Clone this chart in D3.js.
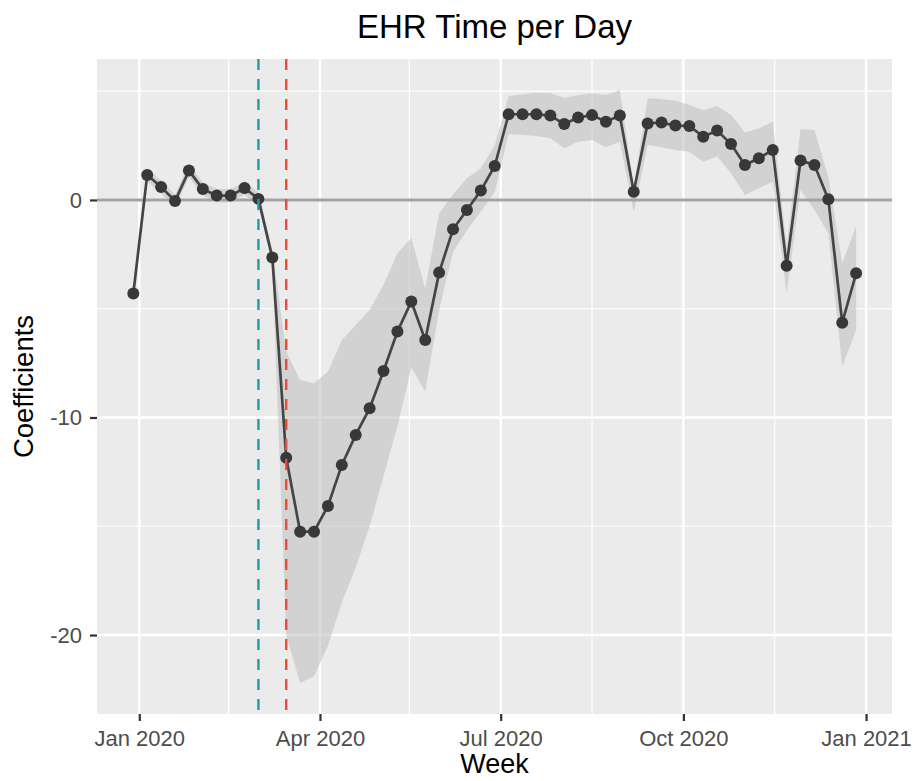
<!DOCTYPE html>
<html>
<head>
<meta charset="utf-8">
<script src="https://cdn.jsdelivr.net/npm/d3@7"></script>
<style>
    body { margin: 0; background: #ffffff; }
    text { font-family: "Liberation Sans", Arial, sans-serif; }
</style>
</head>
<body>
<div id="chart"></div>
<script>
// weekly dates of the coefficients
const weekDates = [
    "2019-12-29",
    "2020-01-05", "2020-01-12", "2020-01-19", "2020-01-26",
    "2020-02-02", "2020-02-09", "2020-02-16", "2020-02-23",
    "2020-03-01", "2020-03-08", "2020-03-15", "2020-03-22", "2020-03-29",
    "2020-04-05", "2020-04-12", "2020-04-19", "2020-04-26",
    "2020-05-03", "2020-05-10", "2020-05-17", "2020-05-24", "2020-05-31",
    "2020-06-07", "2020-06-14", "2020-06-21", "2020-06-28",
    "2020-07-05", "2020-07-12", "2020-07-19", "2020-07-26",
    "2020-08-02", "2020-08-09", "2020-08-16", "2020-08-23", "2020-08-30",
    "2020-09-06", "2020-09-13", "2020-09-20", "2020-09-27",
    "2020-10-04", "2020-10-11", "2020-10-18", "2020-10-25",
    "2020-11-01", "2020-11-08", "2020-11-15", "2020-11-22", "2020-11-29",
    "2020-12-06", "2020-12-13", "2020-12-20", "2020-12-27"
];

// point estimates
const coefValues = [
    -4.3,
    1.15, 0.6, -0.05, 1.35,
    0.5, 0.2, 0.2, 0.55,
    0.05, -2.65, -11.85, -15.25, -15.25,
    -14.07, -12.18, -10.8, -9.58,
    -7.86, -6.05, -4.67, -6.44, -3.34,
    -1.35, -0.46, 0.43, 1.56,
    3.94, 3.94, 3.94, 3.88,
    3.49, 3.79, 3.9, 3.6, 3.88,
    0.38, 3.52, 3.56, 3.42,
    3.4, 2.91, 3.19, 2.57,
    1.61, 1.92, 2.3, -3.02, 1.81,
    1.61, 0.03, -5.64, -3.37
];

// upper confidence bound
const upperValues = [
    -4.1,
    1.45, 0.9, 0.25, 1.65,
    0.8, 0.5, 0.5, 0.85,
    0.35, -2.3, -6.97, -8.28, -8.43,
    -7.9, -6.44, -5.75, -5.06,
    -3.9, -2.45, -1.76, -4.06, -0.61,
    0.25, 1.0, 1.46, 2.5,
    4.78, 4.86, 4.93, 4.9,
    4.7, 4.83, 4.9, 4.83, 5.06,
    0.61, 4.67, 4.63, 4.57,
    4.37, 4.14, 4.32, 3.91,
    3.1, 3.29, 3.6, -2.15, 3.25,
    3.22, 1.07, -2.91, -1.2
];

// lower confidence bound
const lowerValues = [
    -4.5,
    0.85, 0.3, -0.35, 1.05,
    0.2, -0.1, -0.1, 0.25,
    -0.25, -3.0, -20.0, -22.2, -21.9,
    -20.5, -18.5, -16.9, -15.0,
    -12.7, -10.4, -7.7, -8.8, -5.06,
    -2.4, -1.38, -0.54, 0.35,
    3.03, 2.99, 2.94, 2.84,
    2.38, 2.68, 2.76, 2.42, 2.68,
    -0.54, 2.53, 2.42, 2.3,
    2.22, 1.76, 2.0, 1.23,
    0.23, 0.54, 0.84, -4.29, 0.46,
    -0.46, -1.53, -7.66, -5.98
];

// axes
const xTickDates = ["2020-01-01", "2020-04-01", "2020-07-01", "2020-10-01", "2021-01-01"];
const xMinorDates = ["2020-02-15", "2020-05-16", "2020-08-16", "2020-11-16"];
const yTickValues = [-20, -10, 0];
const yMinorValues = [-15, -5, 5];

// reference lines
const vlineDates = ["2020-03-01", "2020-03-15"];
const vlineColors = ["#1f9c9c", "#f4473a"];

class EHR_Time_Chart {
    constructor(parent_element) {
        this.parent_element = parent_element;
        this.initVis();
    }

    initVis() {
        // initialize svg
        this.margin = {top: 59, right: 21, bottom: 67, left: 97};
        this.width = 913 - this.margin.left - this.margin.right;
        this.height = 781 - this.margin.top - this.margin.bottom;

        this.svg = d3.select("#" + this.parent_element)
            .append("svg")
            .attr("width", 913)
            .attr("height", 781)
            .append("g")
            .attr("transform", "translate(" + this.margin.left + "," + this.margin.top + ")");

        // scales
        this.x = d3.scaleUtc()
            .domain([new Date("2019-12-10T17:00:00Z"), new Date("2021-01-14T01:30:00Z")])
            .range([0, this.width]);

        this.y = d3.scaleLinear()
            .domain([-23.63, 6.48])
            .range([this.height, 0]);

        this.wrangleData();
    }

    wrangleData() {
        this.data = weekDates.map((d, i) => ({
            date: new Date(d + "T00:00:00Z"),
            coef: coefValues[i],
            upper: upperValues[i],
            lower: lowerValues[i]
        }));
        this.updateVis();
    }

    updateVis() {
        let vis = this;

        // panel background
        vis.svg.append("rect")
            .attr("width", vis.width)
            .attr("height", vis.height)
            .attr("fill", "#ebebeb");

        // minor grid
        vis.svg.selectAll(".xminor")
            .data(xMinorDates)
            .enter().append("line")
            .attr("x1", d => vis.x(new Date(d)))
            .attr("x2", d => vis.x(new Date(d)))
            .attr("y1", 0).attr("y2", vis.height)
            .attr("stroke", "#ffffff").attr("stroke-width", 1.2);

        vis.svg.selectAll(".yminor")
            .data(yMinorValues)
            .enter().append("line")
            .attr("x1", 0).attr("x2", vis.width)
            .attr("y1", d => vis.y(d)).attr("y2", d => vis.y(d))
            .attr("stroke", "#ffffff").attr("stroke-width", 1.2);

        // major grid
        vis.svg.selectAll(".xmajor")
            .data(xTickDates)
            .enter().append("line")
            .attr("x1", d => vis.x(new Date(d)))
            .attr("x2", d => vis.x(new Date(d)))
            .attr("y1", 0).attr("y2", vis.height)
            .attr("stroke", "#ffffff").attr("stroke-width", 2.4);

        vis.svg.selectAll(".ymajor")
            .data(yTickValues)
            .enter().append("line")
            .attr("x1", 0).attr("x2", vis.width)
            .attr("y1", d => vis.y(d)).attr("y2", d => vis.y(d))
            .attr("stroke", "#ffffff").attr("stroke-width", 2.4);

        // confidence ribbon
        let area = d3.area()
            .x(d => vis.x(d.date))
            .y0(d => vis.y(d.lower))
            .y1(d => vis.y(d.upper));

        vis.svg.append("path")
            .datum(vis.data)
            .attr("d", area)
            .attr("fill", "#bebebe")
            .attr("fill-opacity", 0.55);

        // zero line
        vis.svg.append("line")
            .attr("x1", 0).attr("x2", vis.width)
            .attr("y1", vis.y(0)).attr("y2", vis.y(0))
            .attr("stroke", "#a3a3a3")
            .attr("stroke-width", 3);

        // coefficient line
        let line = d3.line()
            .x(d => vis.x(d.date))
            .y(d => vis.y(d.coef));

        vis.svg.append("path")
            .datum(vis.data)
            .attr("d", line)
            .attr("fill", "none")
            .attr("stroke", "#454545")
            .attr("stroke-width", 2.7);

        // points
        vis.svg.selectAll(".pt")
            .data(vis.data)
            .enter().append("circle")
            .attr("class", "pt")
            .attr("cx", d => vis.x(d.date))
            .attr("cy", d => vis.y(d.coef))
            .attr("r", 6)
            .attr("fill", "#383838");

        // dashed reference lines
        vis.svg.selectAll(".vline")
            .data(vlineDates)
            .enter().append("line")
            .attr("x1", d => vis.x(new Date(d + "T00:00:00Z")))
            .attr("x2", d => vis.x(new Date(d + "T00:00:00Z")))
            .attr("y1", 0).attr("y2", vis.height)
            .attr("stroke", (d, i) => vlineColors[i])
            .attr("stroke-width", 2.4)
            .attr("stroke-dasharray", "11,9");

        // x axis
        let xAxis = vis.svg.append("g")
            .attr("transform", "translate(0," + vis.height + ")")
            .call(d3.axisBottom(vis.x)
                .tickValues(xTickDates.map(d => new Date(d + "T00:00:00Z")))
                .tickFormat(d3.utcFormat("%b %Y"))
                .tickSize(7)
                .tickPadding(9));
        xAxis.select(".domain").remove();
        xAxis.selectAll("line").attr("stroke", "#333333").attr("stroke-width", 2.2);
        xAxis.selectAll("text")
            .attr("font-size", "22px")
            .attr("font-family", "Liberation Sans, Arial, sans-serif")
            .attr("fill", "#4d4d4d");

        // y axis
        let yAxis = vis.svg.append("g")
            .call(d3.axisLeft(vis.y)
                .tickValues(yTickValues)
                .tickFormat(d3.format("d"))
                .tickSize(7)
                .tickPadding(8));
        yAxis.select(".domain").remove();
        yAxis.selectAll("line").attr("stroke", "#333333").attr("stroke-width", 2.2);
        yAxis.selectAll("text")
            .text(d => String(d))
            .attr("font-size", "22px")
            .attr("font-family", "Liberation Sans, Arial, sans-serif")
            .attr("fill", "#4d4d4d");

        // titles
        vis.svg.append("text")
            .attr("text-anchor", "middle")
            .attr("x", vis.width / 2)
            .attr("y", 38 - vis.margin.top)
            .attr("font-size", "33px")
            .attr("fill", "black")
            .text("EHR Time per Day");

        vis.svg.append("text")
            .attr("text-anchor", "middle")
            .attr("x", vis.width / 2)
            .attr("y", 773 - vis.margin.top)
            .attr("font-size", "27px")
            .attr("fill", "black")
            .text("Week");

        vis.svg.append("text")
            .attr("text-anchor", "middle")
            .attr("transform", "translate(" + (33 - vis.margin.left) + "," + (vis.height / 2) + ") rotate(-90)")
            .attr("font-size", "27.5px")
            .attr("fill", "black")
            .text("Coefficients");
    }
}

let ehr_chart = new EHR_Time_Chart("chart");
</script>
</body>
</html>
